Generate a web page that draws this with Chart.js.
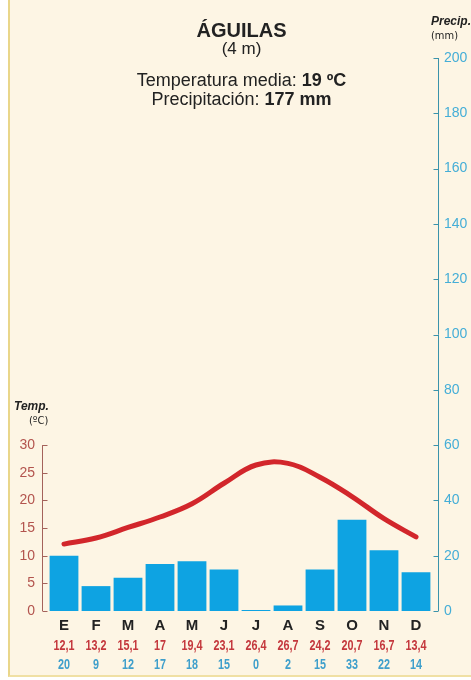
<!DOCTYPE html>
<html>
<head>
<meta charset="utf-8">
<script src="https://cdn.jsdelivr.net/npm/chart.js/dist/chart.umd.min.js"></script>
<style>
    body { margin: 0; background: #fff; font-family: 'Liberation Sans', Arial, sans-serif; }
    .panel {
        position: absolute; left: 8px; top: 0; width: 463px; height: 677px;
        background: #fdf5e4; box-sizing: border-box;
        border-left: 2px solid #e9d68a; border-bottom: 2px solid #f0e0a4;
    }
    #grafico { position: absolute; left: 0; top: 0; }
    .txt { position: absolute; white-space: nowrap; color: #222; }
    .centro { left: 100px; width: 283px; text-align: center; }
</style>
</head>
<body>
<div class="panel"></div>
<canvas id="grafico" width="471" height="680"></canvas>

<!-- Titulo -->
<div class="txt centro" style="top:18px; font-size:20px; line-height:24px; font-weight:bold;">ÁGUILAS</div>
<div class="txt centro" style="top:39px; font-size:17px; line-height:19px;">(4 m)</div>
<div class="txt centro" style="top:70px; font-size:18px; line-height:20px;">Temperatura media: <b>19 ºC</b></div>
<div class="txt centro" style="top:89px; font-size:18px; line-height:20px;">Precipitación: <b>177 mm</b></div>

<!-- Unidades de los ejes -->
<div class="txt" style="left:14px; top:399px; font-size:12px; font-weight:bold; font-style:italic;">Temp.</div>
<div class="txt" style="left:29px; top:414px; font-size:11px; font-family:'DejaVu Sans Condensed', sans-serif;">(ºC)</div>
<div class="txt" style="left:431px; top:14px; font-size:12px; font-weight:bold; font-style:italic;">Precip.</div>
<div class="txt" style="left:431px; top:29px; font-size:11px; font-family:'DejaVu Sans Condensed', sans-serif;">(mm)</div>

<script>
    // Datos
    const meses = ['E', 'F', 'M', 'A', 'M', 'J', 'J', 'A', 'S', 'O', 'N', 'D'];
    const temperaturas = [12.1, 13.2, 15.1, 17, 19.4, 23.1, 26.4, 26.7, 24.2, 20.7, 16.7, 13.4];
    const precipitaciones = [20, 9, 12, 17, 18, 15, 0, 2, 15, 33, 22, 14];
    const etiquetasTemp = ['12,1', '13,2', '15,1', '17', '19,4', '23,1', '26,4', '26,7', '24,2', '20,7', '16,7', '13,4'];
    const etiquetasPrec = ['20', '9', '12', '17', '18', '15', '0', '2', '15', '33', '22', '14'];
    const ticksTemp = [0, 5, 10, 15, 20, 25, 30];
    const ticksPrec = [0, 20, 40, 60, 80, 100, 120, 140, 160, 180, 200];

    const fuente = "'Liberation Sans', Arial, sans-serif";

    // Lineas de los ejes con marcas hacia dentro
    const ejes = {
        id: 'ejes',
        afterDraw(chart) {
            const { ctx, chartArea, scales } = chart;
            const xl = Math.round(chartArea.left - 6) + 0.5;
            const xr = Math.round(chartArea.right + 6) + 0.5;
            ctx.save();
            ctx.lineWidth = 1;

            ctx.strokeStyle = '#a4625b';
            ctx.beginPath();
            ctx.moveTo(xl, scales.yT.getPixelForValue(0));
            ctx.lineTo(xl, scales.yT.getPixelForValue(30));
            ticksTemp.forEach(v => {
                const y = Math.round(scales.yT.getPixelForValue(v)) + 0.5;
                ctx.moveTo(xl, y);
                ctx.lineTo(xl + 5, y);
            });
            ctx.stroke();

            ctx.strokeStyle = '#3b93ab';
            ctx.beginPath();
            ctx.moveTo(xr, scales.yP.getPixelForValue(0));
            ctx.lineTo(xr, scales.yP.getPixelForValue(200));
            ticksPrec.forEach(v => {
                const y = Math.round(scales.yP.getPixelForValue(v)) + 0.5;
                ctx.moveTo(xr, y);
                ctx.lineTo(xr - 5, y);
            });
            ctx.stroke();
            ctx.restore();
        }
    };

    // Valores bajo los meses, en letra estrecha (x2: temperatura, x3: precipitacion)
    const filas = {
        id: 'filas',
        afterDraw(chart) {
            const ctx = chart.ctx;
            [['x2', '#c4383d', 16], ['x3', '#3f9fcb', 17]].forEach(([id, color, base]) => {
                const s = chart.scales[id];
                ctx.save();
                ctx.font = 'bold 15px ' + fuente;
                ctx.fillStyle = color;
                ctx.textAlign = 'center';
                ctx.textBaseline = 'alphabetic';
                s.ticks.forEach((t, i) => {
                    ctx.save();
                    ctx.translate(s.getPixelForTick(i), s.top + base);
                    ctx.scale(0.72, 1);
                    ctx.fillText(s.getLabelForValue(t.value), 0, 0);
                    ctx.restore();
                });
                ctx.restore();
            });
        }
    };

    const ctx = document.getElementById('grafico').getContext('2d');

    const grafico = new Chart(ctx, {
        type: 'bar',
        data: {
            labels: meses,
            datasets: [{
                type: 'line',
                label: 'Temperatura',
                data: temperaturas,
                yAxisID: 'yT',
                xAxisID: 'x',
                borderColor: '#d2262b',
                borderWidth: 5,
                borderCapStyle: 'round',
                tension: 0.4,
                pointRadius: 0,
                order: 0
            }, {
                label: 'Precipitación',
                data: precipitaciones,
                yAxisID: 'yP',
                xAxisID: 'x',
                backgroundColor: '#0ea3e2',
                barPercentage: 0.9,
                categoryPercentage: 1,
                minBarLength: 1,
                order: 1
            }]
        },
        plugins: [ejes, filas],
        options: {
            responsive: false,
            animation: false,
            layout: { padding: { top: 58, left: 0, right: 0, bottom: 10 } },
            plugins: {
                legend: { display: false },
                tooltip: { enabled: false }
            },
            scales: {
                x: {
                    type: 'category',
                    position: 'bottom',
                    weight: 0,
                    offset: true,
                    grid: { display: false, drawTicks: false },
                    border: { display: false },
                    ticks: { color: '#222', padding: 6, font: { family: fuente, size: 15, weight: 'bold' }, maxRotation: 0, autoSkip: false },
                    afterFit: s => { s.height = 23; }
                },
                x2: {
                    type: 'category',
                    position: 'bottom',
                    weight: 1,
                    offset: true,
                    labels: etiquetasTemp,
                    grid: { display: false, drawTicks: false },
                    border: { display: false },
                    ticks: { display: false, autoSkip: false },
                    afterFit: s => { s.height = 18; }
                },
                x3: {
                    type: 'category',
                    position: 'bottom',
                    weight: 2,
                    offset: true,
                    labels: etiquetasPrec,
                    grid: { display: false, drawTicks: false },
                    border: { display: false },
                    ticks: { display: false, autoSkip: false },
                    afterFit: s => { s.height = 18; }
                },
                yT: {
                    position: 'left',
                    min: 0,
                    max: 100,
                    grid: { display: false, drawTicks: false },
                    border: { display: false },
                    afterBuildTicks: s => { s.ticks = ticksTemp.map(v => ({ value: v })); },
                    ticks: { color: '#b3544e', padding: 13, font: { family: fuente, size: 14 } },
                    afterFit: s => { s.width = 48; }
                },
                yP: {
                    position: 'right',
                    min: 0,
                    max: 200,
                    grid: { display: false, drawTicks: false },
                    border: { display: false },
                    afterBuildTicks: s => { s.ticks = ticksPrec.map(v => ({ value: v })); },
                    ticks: { color: '#45aed7', padding: 12, font: { family: fuente, size: 14 } },
                    afterFit: s => { s.width = 39; }
                }
            }
        }
    });
</script>
</body>
</html>
